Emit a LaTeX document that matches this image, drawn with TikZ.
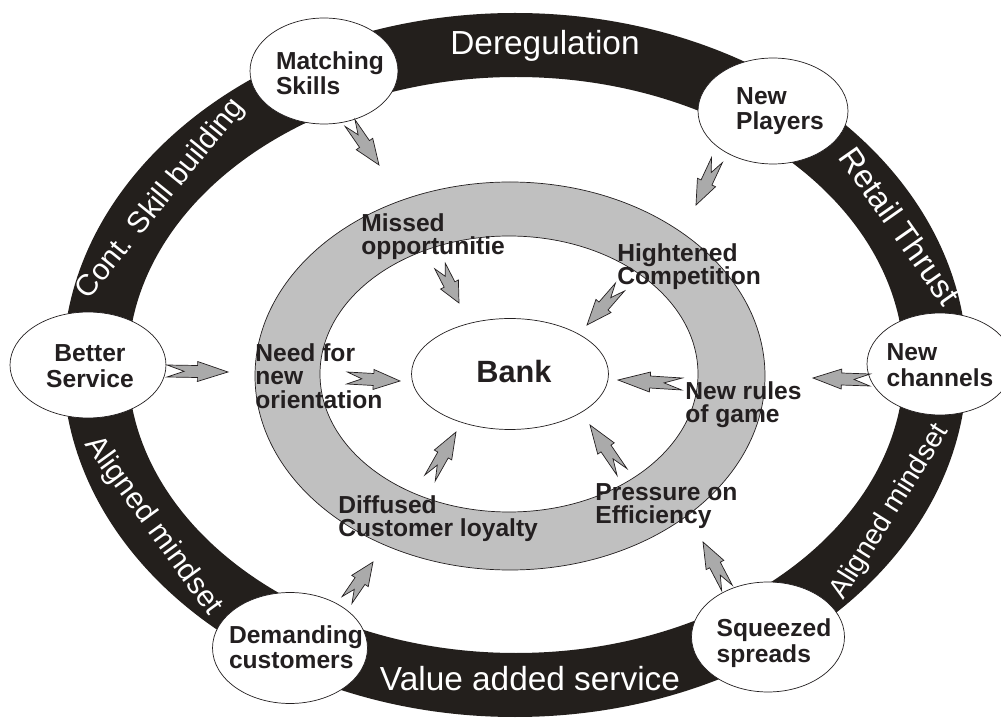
\documentclass[tikz,border=0pt]{standalone}
\usepackage{fontspec}
\setmainfont{Liberation Sans}
\usetikzlibrary{calc,shapes.geometric}
\definecolor{bandblack}{RGB}{35,31,28}
\definecolor{ringgray}{RGB}{192,192,192}
\definecolor{dartgray}{RGB}{170,170,170}
\definecolor{inkdark}{RGB}{35,31,32}
\begin{document}
\begin{tikzpicture}[x=0.02cm,y=-0.02cm,spot/.style={draw=inkdark,fill=white,ellipse,inner sep=0pt,minimum width=3cm,minimum height=2.12cm},spottext/.style={font=\fontsize{14}{14.5}\selectfont\bfseries,text=inkdark,align=left,inner sep=0pt},ringtext/.style={font=\fontsize{14}{13.5}\selectfont\bfseries,text=inkdark,align=left,inner sep=0pt,anchor=north west},bandtext/.style={font=\fontsize{19}{20}\selectfont,text=white,inner sep=0pt},dart/.style={draw=inkdark,fill=dartgray,thin,line join=miter,to path={($(\tikztostart)!\dartS!90:(\tikztotarget)$) -- ($(\tikztostart)!0.5!(\tikztotarget)!\dartS!90:(\tikztotarget)$) -- ($(\tikztostart)!0.5!(\tikztotarget)!\dartH!90:(\tikztotarget)$) -- (\tikztotarget) -- ($(\tikztostart)!0.5!(\tikztotarget)!\dartH!-90:(\tikztotarget)$) -- ($(\tikztostart)!0.5!(\tikztotarget)!\dartS!-90:(\tikztotarget)$) -- ($(\tikztostart)!\dartS!-90:(\tikztotarget)$) -- ($(\tikztostart)!0.28!(\tikztotarget)$) -- cycle}}]
\def\dartS{0.12cm}
\def\dartH{0.2cm}
\useasboundingbox (0,0) rectangle (1001,719);

\fill[bandblack,even odd rule] (515,365) ellipse [x radius=452,y radius=352] (516,365) ellipse [x radius=388,y radius=288];
\draw[inkdark,fill=ringgray,even odd rule] (510,376) ellipse [x radius=255,y radius=194] (509,374) ellipse [x radius=189,y radius=138];

\node[bandtext] (dereg) at (545,46) {Deregulation};
\node[bandtext,rotate=-55,font=\fontsize{18.5}{20}\selectfont] (retail) at (900,226) {Retail Thrust};
\node[bandtext,rotate=51,font=\fontsize{17}{18}\selectfont] (skill) at (161,199) {Cont. Skill building};
\node[bandtext,rotate=-54,font=\fontsize{17}{18}\selectfont] (alignL) at (153,526) {Aligned mindset};
\node[bandtext,rotate=58,font=\fontsize{16}{17}\selectfont] (alignR) at (890,512) {Aligned mindset};
\node[bandtext] (value) at (530,679) {Value added service};

\node[spot,minimum width=3.94cm,minimum height=2.22cm] (bank) at (510,374) {};
\node[spottext,font=\fontsize{17.5}{18}\selectfont\bfseries] (bankT) at (514,372) {Bank};

\node[spot,minimum width=2.96cm] (matching) at (324,71) {};
\node[spottext] (matchingT) at (330,73) {Matching\\Skills};
\node[spot] (players) at (773,111) {};
\node[spottext] (playersT) at (780,111) {New\\Players};
\node[spot,minimum width=2.92cm,minimum height=2.04cm] (channels) at (940,364) {};
\node[spottext] (channelsT) at (940,365) {New\\channels};
\node[spot,minimum width=3.12cm] (better) at (88,365) {};
\node[spottext,align=center] (betterT) at (90,366) {Better\\Service};
\node[spot,minimum width=3.1cm,minimum height=2.22cm] (demanding) at (290,648) {};
\node[spottext] (demandingT) at (296,647) {Demanding\\customers};
\node[spot,minimum width=3.06cm,minimum height=2.2cm] (squeezed) at (768,637) {};
\node[spottext] (squeezedT) at (774,643) {Squeezed\\spreads};

\node[ringtext] (missed) at (361,213) {Missed\\opportunitie};
\node[ringtext] (hightened) at (617,243) {Hightened\\Competition};
\node[ringtext] (orient) at (255,343) {Need for\\new\\orientation};
\node[ringtext] (rules) at (685,381) {New rules\\of game};
\node[ringtext] (diffused) at (338,495) {Diffused\\Customer loyalty};
\node[ringtext] (pressure) at (595,483) {Pressure on\\Efficiency};

\coordinate (matchingA) at (350,123); \coordinate (matchingB) at (379,165);
\coordinate (playersA) at (717,160); \coordinate (playersB) at (696,205);
\coordinate (missedA) at (440,266); \coordinate (missedB) at (459,303);
\coordinate (hightenedA) at (620,287); \coordinate (hightenedB) at (587,325);
\coordinate (betterA) at (167,371); \coordinate (betterB) at (228,372);
\coordinate (orientA) at (347,378); \coordinate (orientB) at (400,381);
\coordinate (channelsA) at (870,380); \coordinate (channelsB) at (813,378);
\coordinate (rulesA) at (682,384); \coordinate (rulesB) at (618,380);
\coordinate (diffusedA) at (430,478); \coordinate (diffusedB) at (456,432);
\coordinate (pressureA) at (622,472); \coordinate (pressureB) at (590,425);
\coordinate (demandingA) at (347,600); \coordinate (demandingB) at (373,562);
\coordinate (squeezedA) at (727,588); \coordinate (squeezedB) at (703,542);

\path[dart] (matchingA) to (matchingB);
\path[dart] (playersA) to (playersB);
\path[dart] (missedA) to (missedB);
\path[dart] (hightenedA) to (hightenedB);
\path[dart] (betterA) to (betterB);
\path[dart] (orientA) to (orientB);
\path[dart] (channelsA) to (channelsB);
\path[dart] (rulesA) to (rulesB);
\path[dart] (diffusedA) to (diffusedB);
\path[dart] (pressureA) to (pressureB);
\path[dart] (demandingA) to (demandingB);
\path[dart] (squeezedA) to (squeezedB);
\end{tikzpicture}
\end{document}
